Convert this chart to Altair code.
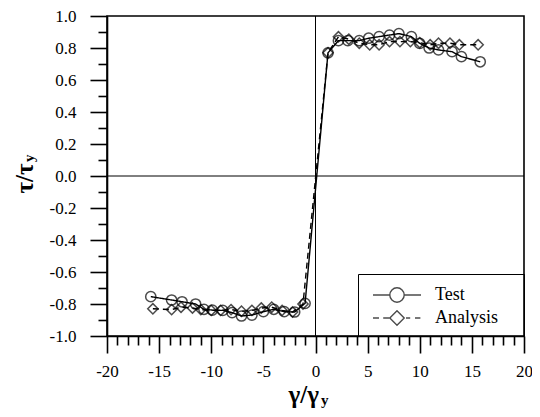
import altair as alt
import pandas as pd

# ---- data ----
series_names = ["Test", "Analysis"]

test_x = [-15.8, -13.8, -12.8, -11.5, -10.7, -9.9, -8.9, -8.0, -7.1, -6.1, -5.0, -4.0, -3.0, -2.0, -1.0,
          1.2, 2.2, 3.1, 4.2, 5.1, 6.1, 7.1, 8.0, 9.2, 10.0, 10.9, 11.8, 13.1, 14.0, 15.8]
test_y = [-0.754, -0.775, -0.786, -0.800, -0.833, -0.838, -0.840, -0.854, -0.875, -0.869, -0.848, -0.833, -0.848, -0.850, -0.796,
          0.770, 0.846, 0.846, 0.846, 0.861, 0.871, 0.881, 0.890, 0.871, 0.829, 0.800, 0.788, 0.777, 0.746, 0.714]

ana_x = [-15.6, -13.8, -12.9, -11.8, -11.0, -10.0, -9.1, -8.1, -7.1, -6.1, -5.2, -4.2, -3.2, -2.2, -1.2,
         1.2, 2.2, 3.2, 4.2, 5.2, 6.1, 7.1, 8.1, 9.1, 10.0, 11.0, 11.8, 12.9, 13.8, 15.6]
ana_y = [-0.830, -0.835, -0.820, -0.825, -0.835, -0.840, -0.840, -0.835, -0.845, -0.840, -0.825, -0.820, -0.840, -0.850, -0.800,
         0.770, 0.870, 0.855, 0.830, 0.820, 0.820, 0.840, 0.840, 0.840, 0.833, 0.820, 0.830, 0.830, 0.820, 0.820]

x_ticks = list(range(-20, 21))
y_ticks = [round(-1 + 0.1 * i, 1) for i in range(21)]
zero_line = [0]

rows = []
for i, (x, y) in enumerate(zip(test_x, test_y)):
    rows.append({"series": "Test", "x": x, "y": y, "order": i})
for i, (x, y) in enumerate(zip(ana_x, ana_y)):
    rows.append({"series": "Analysis", "x": x, "y": y, "order": i})
df = pd.DataFrame(rows)

serif = "Liberation Serif"

xscale = alt.Scale(domain=[-20, 20], nice=False, zero=False)
yscale = alt.Scale(domain=[-1, 1], nice=False, zero=False)

xaxis = alt.Axis(
    values=x_ticks,
    labelExpr="datum.value % 5 === 0 ? ((datum.value < 0 ? '-' : '') + format(abs(datum.value), 'd')) : ''",
    tickSize={"condition": {"test": "datum.value % 5 === 0", "value": 17}, "value": 9},
    grid=False, domainColor="black", domainWidth=1.6, tickColor="black", tickWidth=1.6,
    labelFont=serif, labelFontSize=17, labelColor="black", labelPadding=10, labelFlush=False,
    title="γ/γ", titleFont=serif, titleFontSize=25, titleFontWeight="bold", titleColor="black",
    titleX=181, titleY=66, titleAlign="left", titleBaseline="alphabetic",
)
yaxis = alt.Axis(
    values=y_ticks,
    labelExpr="round(abs(datum.value) * 10) % 2 === 0 ? ((datum.value < 0 ? '-' : '') + format(abs(datum.value), '.1f')) : ''",
    tickSize={"condition": {"test": "round(abs(datum.value) * 10) % 2 === 0", "value": 17}, "value": 9},
    grid=False, domainColor="black", domainWidth=1.6, tickColor="black", tickWidth=1.6,
    labelFont=serif, labelFontSize=17, labelColor="black", labelPadding=14, labelFlush=False,
    title="τ/τ", titleFont=serif, titleFontSize=25, titleFontWeight="bold", titleColor="black",
    titleX=-75, titleY=162, titleAngle=270, titleAlign="center", titleBaseline="alphabetic",
)

X = alt.X("x:Q", scale=xscale, axis=xaxis)
Y = alt.Y("y:Q", scale=yscale, axis=yaxis)

zdf = pd.DataFrame({"v": zero_line})
vrule = alt.Chart(zdf).mark_rule(color="black", strokeWidth=1).encode(x=alt.X("v:Q", scale=xscale, axis=xaxis))
hrule = alt.Chart(zdf).mark_rule(color="black", strokeWidth=1).encode(y=alt.Y("v:Q", scale=yscale, axis=yaxis))

lines = alt.Chart(df).mark_line(color="black", strokeWidth=1.4).encode(
    x=X, y=Y, order="order:Q", detail="series:N",
    strokeDash=alt.StrokeDash("series:N", scale=alt.Scale(domain=series_names, range=[[1, 0], [6, 4]]), legend=None),
)
points = alt.Chart(df).mark_point(filled=False, color="black", strokeWidth=1.5, size=105).encode(
    x=X, y=Y,
    shape=alt.Shape("series:N", scale=alt.Scale(domain=series_names, range=["circle", "diamond"]), legend=None),
)

path_test = "M-2,0L-0.6,0M0.6,0L2,0M-0.6,0A0.6,0.6,0,1,1,0.6,0A0.6,0.6,0,1,1,-0.6,0"
path_ana = "M-2,0L-1.5,0M-1.15,0L-0.65,0M-0.6,0L0,-0.6L0.6,0L0,0.6Z M0.75,0L1.1,0M1.5,0L1.95,0"

legend_layer = alt.Chart(df).transform_filter("datum.x > 1000").mark_point(
    filled=False, color="black", strokeWidth=1.4
).encode(
    x=X, y=Y,
    shape=alt.Shape("series:N", scale=alt.Scale(domain=series_names, range=[path_test, path_ana]),
                    legend=alt.Legend(title="\u00a0", titleOrient="right", titlePadding=18,
                                      titleFontSize=10,
                                      orient="none", legendX=251, legendY=258,
                                      strokeColor="black", padding=8, symbolSize=576,
                                      symbolStrokeColor="black", symbolStrokeWidth=1.4,
                                      symbolFillColor="transparent", symbolOffset=18,
                                      labelFont=serif, labelFontSize=18, labelColor="black",
                                      labelOffset=25, rowPadding=0)),
)

sub_df = pd.DataFrame({"t": ["y"]})
x_sub = alt.Chart(sub_df).mark_text(font=serif, fontSize=15, fontWeight="bold", align="left",
                                    baseline="alphabetic", color="black").encode(
    x=alt.value(214), y=alt.value(389), text="t:N")
y_sub = alt.Chart(sub_df).mark_text(font=serif, fontSize=15, fontWeight="bold", align="left",
                                    baseline="alphabetic", angle=270, color="black").encode(
    x=alt.value(-73), y=alt.value(146), text="t:N")

chart = alt.layer(vrule, hrule, lines, points, legend_layer, x_sub, y_sub).resolve_scale(
    shape="independent"
).properties(
    width=417, height=320,
    autosize=alt.AutoSizeParams(type="none"),
    padding={"left": 99, "top": 8, "right": 8, "bottom": 75},
).configure(font=serif).configure_axis(labelFont=serif, titleFont=serif).configure_legend(
    labelFont=serif
).configure_view(stroke="black", strokeWidth=1.6)

chart.save("out.html", embed_options={"renderer": "svg", "actions": False})
